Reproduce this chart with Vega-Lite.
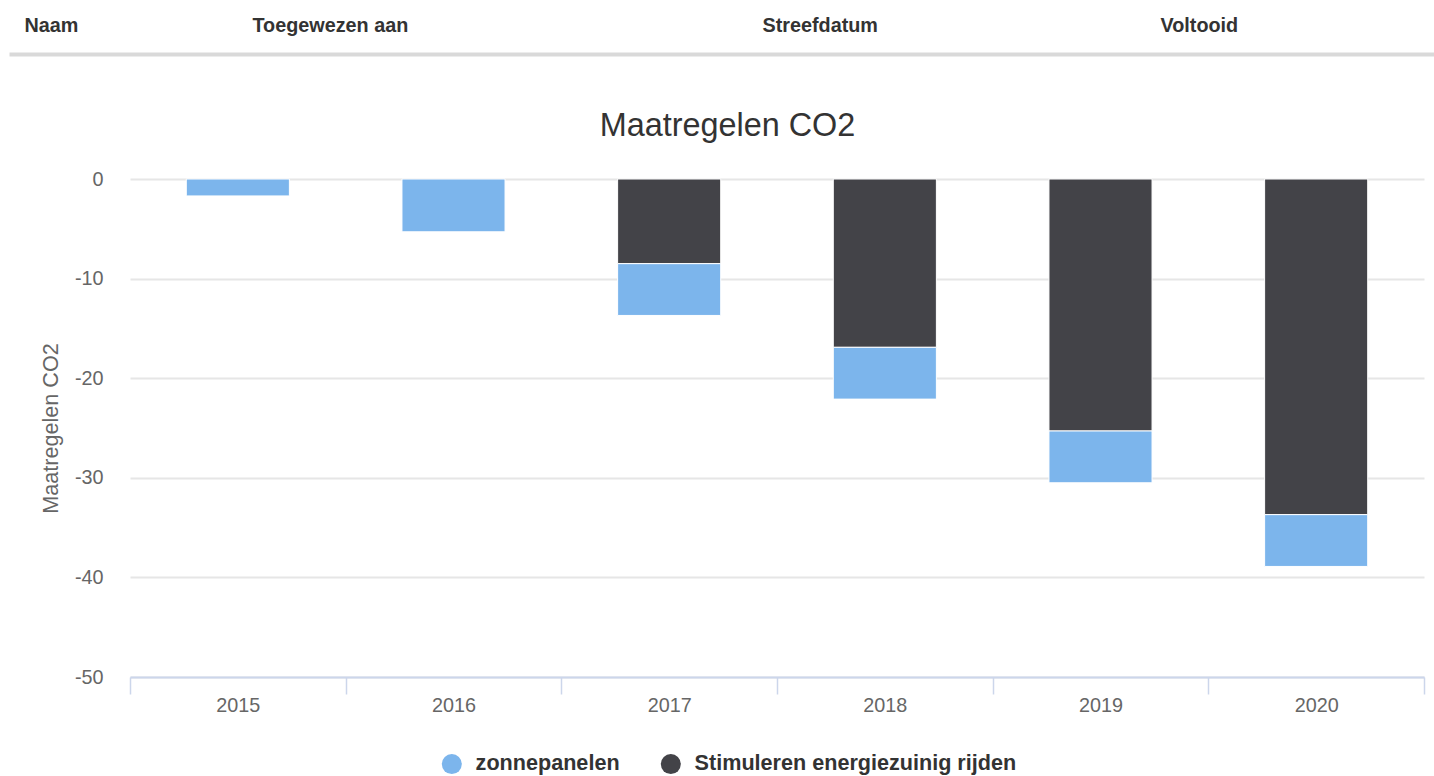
{
  "$schema": "https://vega.github.io/schema/vega-lite/v6.json",
  "width": 1294,
  "height": 498,
  "autosize": {"type": "none"},
  "padding": {"left": 130, "top": 179, "right": 10, "bottom": 99},
  "background": "white",
  "title": {
    "text": "Maatregelen CO2",
    "font": "Liberation Sans",
    "fontSize": 32.4,
    "fontWeight": "normal",
    "color": "#333333",
    "frame": "bounds",
    "anchor": "middle",
    "baseline": "alphabetic",
    "offset": -153,
    "dx": -62
  },
  "config": {
    "font": "Liberation Sans",
    "view": {"stroke": null}
  },
  "layer": [
    {
      "data": {
        "values": [
          {"jaar": "2015", "maatregel": "zonnepanelen", "co2": -1.7},
          {"jaar": "2016", "maatregel": "zonnepanelen", "co2": -5.3},
          {"jaar": "2017", "maatregel": "Stimuleren energiezuinig rijden", "co2": -8.5},
          {"jaar": "2017", "maatregel": "zonnepanelen", "co2": -5.2},
          {"jaar": "2018", "maatregel": "Stimuleren energiezuinig rijden", "co2": -16.9},
          {"jaar": "2018", "maatregel": "zonnepanelen", "co2": -5.2},
          {"jaar": "2019", "maatregel": "Stimuleren energiezuinig rijden", "co2": -25.3},
          {"jaar": "2019", "maatregel": "zonnepanelen", "co2": -5.2},
          {"jaar": "2020", "maatregel": "Stimuleren energiezuinig rijden", "co2": -33.7},
          {"jaar": "2020", "maatregel": "zonnepanelen", "co2": -5.2}
        ]
      },
      "mark": {"type": "bar", "stroke": "white", "strokeWidth": 1, "width": {"band": 0.478}},
      "encoding": {
        "x": {
          "field": "jaar",
          "type": "nominal",
          "scale": {"paddingInner": 0, "paddingOuter": 0},
          "axis": {
            "title": null,
            "labelAngle": 0,
            "tickBand": "extent",
            "tickSize": 17,
            "tickColor": "#ccd6eb",
            "tickWidth": 1.5,
            "domainColor": "#ccd6eb",
            "domainWidth": 2,
            "labelColor": "#666666",
            "labelFontSize": 19.8,
            "labelPadding": 17,
            "labelBaseline": "alphabetic",
            "grid": false
          }
        },
        "y": {
          "field": "co2",
          "type": "quantitative",
          "stack": "zero",
          "scale": {"domain": [-50, 0], "nice": false},
          "axis": {
            "values": [0, -10, -20, -30, -40, -50],
            "labelExpr": "'' + datum.value",
            "domain": false,
            "ticks": false,
            "tickSize": 0,
            "grid": true,
            "gridColor": "#e6e6e6",
            "gridWidth": 2,
            "labelPadding": 27,
            "labelColor": "#666666",
            "labelFontSize": 19.8,
            "labelBaseline": "middle",
            "title": "Maatregelen CO2",
            "titleFontSize": 21.6,
            "titleFontWeight": "normal",
            "titleColor": "#666666",
            "titlePadding": 12
          }
        },
        "color": {
          "field": "maatregel",
          "type": "nominal",
          "scale": {
            "domain": ["zonnepanelen", "Stimuleren energiezuinig rijden"],
            "range": ["#7cb5ec", "#434348"]
          },
          "legend": {
            "orient": "none",
            "legendX": 311,
            "legendY": 574,
            "direction": "horizontal",
            "title": null,
            "padding": 0,
            "labelFont": "Liberation Sans",
            "labelFontSize": 21.6,
            "labelFontWeight": "bold",
            "labelColor": "#333333",
            "labelLimit": 0,
            "labelOffset": 13,
            "columnPadding": 40,
            "symbolType": "circle",
            "symbolSize": 400,
            "symbolStrokeWidth": 0,
            "symbolOpacity": 1
          }
        },
        "order": {"field": "maatregel", "sort": "ascending"}
      }
    },
    {
      "data": {"values": []},
      "mark": "text",
      "encoding": {
        "x": {
          "field": "kolompositie",
          "type": "quantitative",
          "scale": {"domain": [0, 1425], "range": [-121, 1304], "nice": false, "zero": false},
          "axis": {
            "orient": "top",
            "offset": 125,
            "title": null,
            "values": [15, 243, 753, 1151],
            "labelExpr": "datum.value == 15 ? 'Naam' : datum.value == 243 ? 'Toegewezen aan' : datum.value == 753 ? 'Streefdatum' : 'Voltooid'",
            "labelAlign": "left",
            "labelBaseline": "alphabetic",
            "labelPadding": 23,
            "labelFontSize": 19.8,
            "labelFontWeight": "bold",
            "labelColor": "#333333",
            "labelFlush": false,
            "labelOverlap": false,
            "labelBound": false,
            "ticks": false,
            "tickSize": 0,
            "grid": false,
            "domainColor": "#d9d9d9",
            "domainWidth": 4
          }
        },
        "text": {"field": "kolom", "type": "nominal"}
      }
    }
  ],
  "resolve": {"scale": {"x": "independent"}, "axis": {"x": "independent"}}
}
